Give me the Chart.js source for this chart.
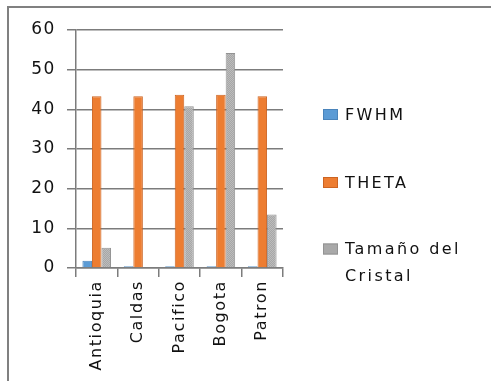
<!DOCTYPE html>
<html>
<head>
<meta charset="utf-8">
<script src="https://cdn.jsdelivr.net/npm/chart.js@4/dist/chart.umd.min.js"></script>
<style>
  html, body { margin: 0; padding: 0; background: #ffffff; }
  #wrap { position: relative; width: 491px; height: 381px; }
</style>
</head>
<body>
<div id="wrap"><canvas id="chart" width="491" height="381"></canvas></div>
<script>
// Samples and the three measured quantities
const categories = ['Antioquia', 'Caldas', 'Pacifico', 'Bogota', 'Patron'];
const seriesNames = ['FWHM', 'THETA', 'Tamaño del Cristal'];
const fwhm = [1.8, 0.45, 0.45, 0.45, 0.45];
const theta = [43.3, 43.3, 43.7, 43.7, 43.3];
const tamanoCristal = [5.1, 0, 40.8, 54.2, 13.5];
const yTicks = [0, 10, 20, 30, 40, 50, 60];

const TEXT = '#111111';
const GRID = '#7c7c7c';
const FONT = '"DejaVu Sans", Verdana, sans-serif';

// fine dotted fill for the crystal-size bars
function dottedFill() {
  const c = document.createElement('canvas');
  c.width = 2; c.height = 2;
  const g = c.getContext('2d');
  g.fillStyle = '#a7a7a7'; g.fillRect(0, 0, 2, 2);
  g.fillStyle = '#bcbcbc'; g.fillRect(0, 0, 1, 1); g.fillRect(1, 1, 1, 1);
  return g.createPattern(c, 'repeat');
}

// wide letter spacing for all axis text
const spacing = {
  id: 'spacing',
  beforeLayout(chart) { chart.ctx.letterSpacing = '1.6px'; },
  beforeDraw(chart) { chart.ctx.letterSpacing = '1.6px'; }
};

// outer frame, open at right and bottom
const frame = {
  id: 'frame',
  afterDraw(chart) {
    const ctx = chart.ctx;
    ctx.save();
    ctx.strokeStyle = '#808080';
    ctx.lineWidth = 2;
    ctx.beginPath();
    ctx.moveTo(8, chart.height + 2);
    ctx.lineTo(8, 7);
    ctx.lineTo(chart.width + 2, 7);
    ctx.stroke();
    ctx.restore();
  }
};

// legend on the right with wrapped labels
const sideLegend = {
  id: 'sideLegend',
  afterDraw(chart) {
    const ctx = chart.ctx;
    const centers = [114.5, 182.5, 249];
    const lineGap = 26.5;
    const boxX = 323, boxW = 15, boxH = 11, textX = 345, maxW = 140;
    ctx.save();
    ctx.font = '16px ' + FONT;
    ctx.letterSpacing = '2.4px';
    ctx.textBaseline = 'middle';
    ctx.textAlign = 'left';
    chart.data.datasets.forEach((ds, i) => {
      const cy = centers[i];
      ctx.fillStyle = ds.legendColor;
      ctx.fillRect(boxX, cy - boxH / 2, boxW, boxH);
      ctx.strokeStyle = ds.borderColor;
      ctx.lineWidth = 1;
      ctx.strokeRect(boxX + 0.5, cy - boxH / 2 + 0.5, boxW - 1, boxH - 1);
      // wrap words to the available width
      const words = ds.label.split(' ');
      const lines = [];
      let cur = '';
      words.forEach(w => {
        const test = cur ? cur + ' ' + w : w;
        if (cur && ctx.measureText(test).width > maxW) { lines.push(cur); cur = w; }
        else cur = test;
      });
      lines.push(cur);
      ctx.fillStyle = TEXT;
      lines.forEach((ln, k) => ctx.fillText(ln, textX, cy + 1 + k * lineGap));
    });
    ctx.restore();
  }
};

const ctx = document.getElementById('chart').getContext('2d');
new Chart(ctx, {
  type: 'bar',
  data: {
    labels: categories,
    datasets: [
      { label: seriesNames[0], data: fwhm, backgroundColor: '#5b9bd5', legendColor: '#5b9bd5', borderColor: '#4a84bb', borderWidth: 1 },
      { label: seriesNames[1], data: theta, backgroundColor: '#ed7d31', legendColor: '#ed7d31', borderColor: '#cc6422', borderWidth: 1 },
      { label: seriesNames[2], data: tamanoCristal, backgroundColor: dottedFill(), legendColor: '#a9a9a9', borderColor: '#939393', borderWidth: 1 }
    ]
  },
  options: {
    responsive: false,
    animation: false,
    devicePixelRatio: 1,
    layout: { padding: { top: 30, right: 208, bottom: 0, left: 0 } },
    datasets: { bar: { categoryPercentage: 0.69, barPercentage: 1.0 } },
    plugins: {
      legend: { display: false },
      tooltip: { enabled: false }
    },
    scales: {
      x: {
        grid: {
          offset: true,
          drawOnChartArea: false,
          drawTicks: true,
          tickLength: 9,
          color: GRID,
          lineWidth: 1.5
        },
        border: { display: true, color: GRID, width: 1.5 },
        ticks: {
          color: TEXT,
          font: { family: FONT, size: 16 },
          minRotation: 90,
          maxRotation: 90,
          padding: 3,
          autoSkip: false
        },
        afterFit(scale) { scale.height = 113; }
      },
      y: {
        min: 0,
        max: 60,
        afterBuildTicks(scale) { scale.ticks = yTicks.map(v => ({ value: v })); },
        grid: { color: GRID, lineWidth: 1.5, tickLength: 9, drawTicks: true },
        border: { display: true, color: GRID, width: 1.5 },
        ticks: {
          color: TEXT,
          font: { family: FONT, size: 17 },
          padding: 11
        },
        afterFit(scale) { scale.width = 76; }
      }
    }
  },
  plugins: [spacing, frame, sideLegend]
});
</script>
</body>
</html>
